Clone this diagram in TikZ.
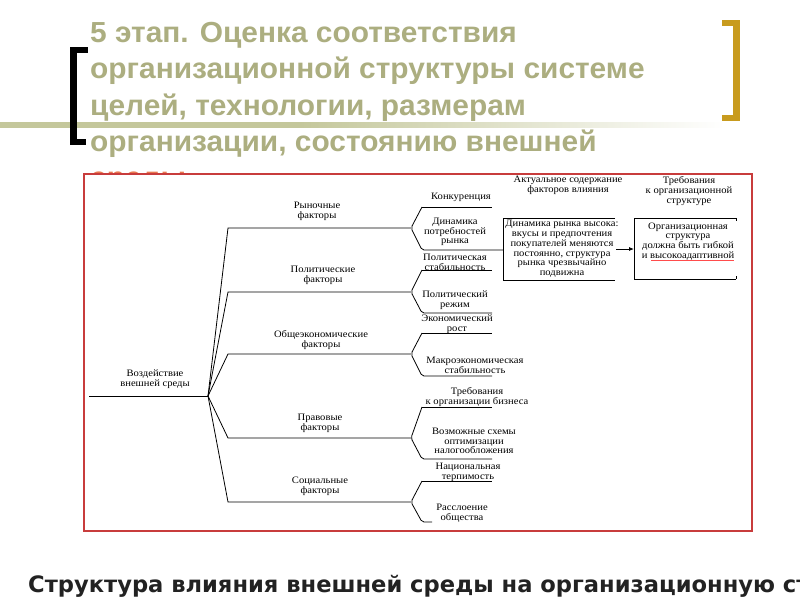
\documentclass[tikz,border=0pt]{standalone}
\usepackage{fontspec}
\setmainfont{Liberation Serif}
\newfontfamily\dfont[FakeStretch=1.08]{Liberation Serif}
\newfontfamily\titlefont{Liberation Sans}
\newfontfamily\capfont{DejaVu Sans}
\usetikzlibrary{arrows.meta}
\definecolor{titleol}{RGB}{172,174,128}
\definecolor{barol}{RGB}{196,199,155}
\definecolor{goldbr}{RGB}{200,155,30}
\definecolor{framered}{RGB}{200,60,60}
\definecolor{sredyc}{RGB}{232,120,80}
\definecolor{capc}{RGB}{34,34,34}
\tikzset{
  ttl/.style={anchor=base west, inner sep=0pt, text=titleol, font=\titlefont\bfseries\fontsize{29}{30}\selectfont},
  lbl/.style={align=center, inner sep=0pt, font=\dfont\fontsize{9.8}{9.8}\selectfont},
  ln/.style={draw=black, line width=0.8pt},
  brn/.style={ln, rounded corners=2pt},
}
\begin{document}
\begin{tikzpicture}[x=1pt,y=-1pt]
\useasboundingbox (0,0) rectangle (800,600);
\fill[white] (0,0) rectangle (800,600);
% gradient bar
\fill[barol] (0,122) rectangle (300,127.5);
\shade[left color=barol, right color=white] (299.5,122) rectangle (725,127.5);
% title
\node[ttl] (t1) at (90,42) {\scalebox{1.03}[1]{5 этап. Оценка соответствия}};
\node[ttl] (t2) at (90,78.5) {\scalebox{1.03}[1]{организационной структуры системе}};
\node[ttl] (t3) at (90,115) {\scalebox{1.03}[1]{целей, технологии, размерам}};
\node[ttl] (t4) at (90,151.5) {\scalebox{1.03}[1]{организации, состоянию внешней}};
\node[ttl, text=sredyc] (t5) at (90,187.5) {\scalebox{1.03}[1]{среды}};
% brackets
\fill[black] (70,47) rectangle (77,145);
\fill[black] (70,47) rectangle (88,52.5);
\fill[black] (70,139) rectangle (86,145);
\fill[goldbr] (733,20) rectangle (740,121);
\fill[goldbr] (722,20) rectangle (740,26);
\fill[goldbr] (722,115) rectangle (740,121);
% frame
\fill[white] (84,174) rectangle (752,531);
\draw[framered, line width=2pt] (84,174) rectangle (752,531);
% labels
\node[lbl] (root) at (155,379) {Воздействие\\внешней среды};
\node[lbl] (f1) at (317,211) {Рыночные\\факторы};
\node[lbl] (f2) at (323,275) {Политические\\факторы};
\node[lbl] (f3) at (321,340) {Общеэкономические\\факторы};
\node[lbl] (f4) at (320,423) {Правовые\\факторы};
\node[lbl] (f5) at (320,486) {Социальные\\факторы};
\node[lbl] (a1) at (461,197) {Конкуренция};
\node[lbl] (a2) at (455,232) {Динамика\\потребностей\\рынка};
\node[lbl] (b1) at (455,262.5) {Политическая\\стабильность};
\node[lbl] (b2) at (455,300.5) {Политический\\режим};
\node[lbl] (c1) at (457,324) {Экономический\\рост};
\node[lbl] (c2) at (475,365.5) {Макроэкономическая\\стабильность};
\node[lbl] (d1) at (477,397) {Требования\\к организации бизнеса};
\node[lbl] (d2) at (474,441) {Возможные схемы\\оптимизации\\налогообложения};
\node[lbl] (e1) at (468,472) {Национальная\\терпимость};
\node[lbl] (e2) at (462,513) {Расслоение\\общества};
\node[lbl] (h1) at (568,185) {Актуальное содержание\\факторов влияния};
\node[lbl] (h2) at (689,191) {Требования\\к организационной\\структуре};
\node[lbl] (x1) at (562,249) {Динамика рынка высока:\\вкусы и предпочтения\\покупателей меняются\\постоянно, структура\\рынка чрезвычайно\\подвижна};
\node[lbl] (x2) at (688,241.5) {Организационная\\структура\\должна быть гибкой\\и высокоадаптивной};
% boxes (open on right)
\coordinate (bx1a) at (615,218); \coordinate (bx1b) at (503,218);
\coordinate (bx1c) at (503,280); \coordinate (bx1d) at (615,280);
\draw[ln] (bx1a) -- (bx1b) -- (bx1c) -- (bx1d);
\coordinate (bx2a) at (736,218); \coordinate (bx2b) at (634,218);
\coordinate (bx2c) at (634,279); \coordinate (bx2d) at (736,279);
\draw[ln] (bx2a) -- (bx2b) -- (bx2c) -- (bx2d);
\draw[ln] (bx2a) -- ++(0,3);
\draw[ln] (bx2d) -- ++(0,-3);
\coordinate (ar1) at (616,249); \coordinate (ar2) at (634,249);
\draw[ln, -{Latex[length=5pt,width=4pt]}] (ar1) -- (ar2);
\coordinate (ul1) at (651,260.5); \coordinate (ul2) at (734,260.5);
\draw[red!70, line width=0.4pt] (ul1) -- (ul2);
% tree
\coordinate (r0) at (89,396); \coordinate (rv) at (208,396);
\draw[ln] (r0) -- (rv);
\foreach \n/\y/\u/\d/\e in {1/228/207/250/503, 2/292/270/313/492, 3/354/333/376/492, 4/438/407/459/492, 5/502/481/522/432}{
  \coordinate (m\n) at (228,\y);
  \coordinate (v\n) at (411,\y);
  \draw[ln] (rv) -- (m\n) -- (v\n);
  \draw[brn] (422,\u) -- (v\n) -- (422,\d) -- (\e,\d);
  \draw[ln] (422,\u) -- (492,\u);
}
% caption
\node[anchor=base west, inner sep=0pt, text=capc, font=\capfont\bfseries\fontsize{22.6}{24}\selectfont] (cap) at (28,592) {Структура влияния внешней среды на организационную структуру};
\end{tikzpicture}
\end{document}
